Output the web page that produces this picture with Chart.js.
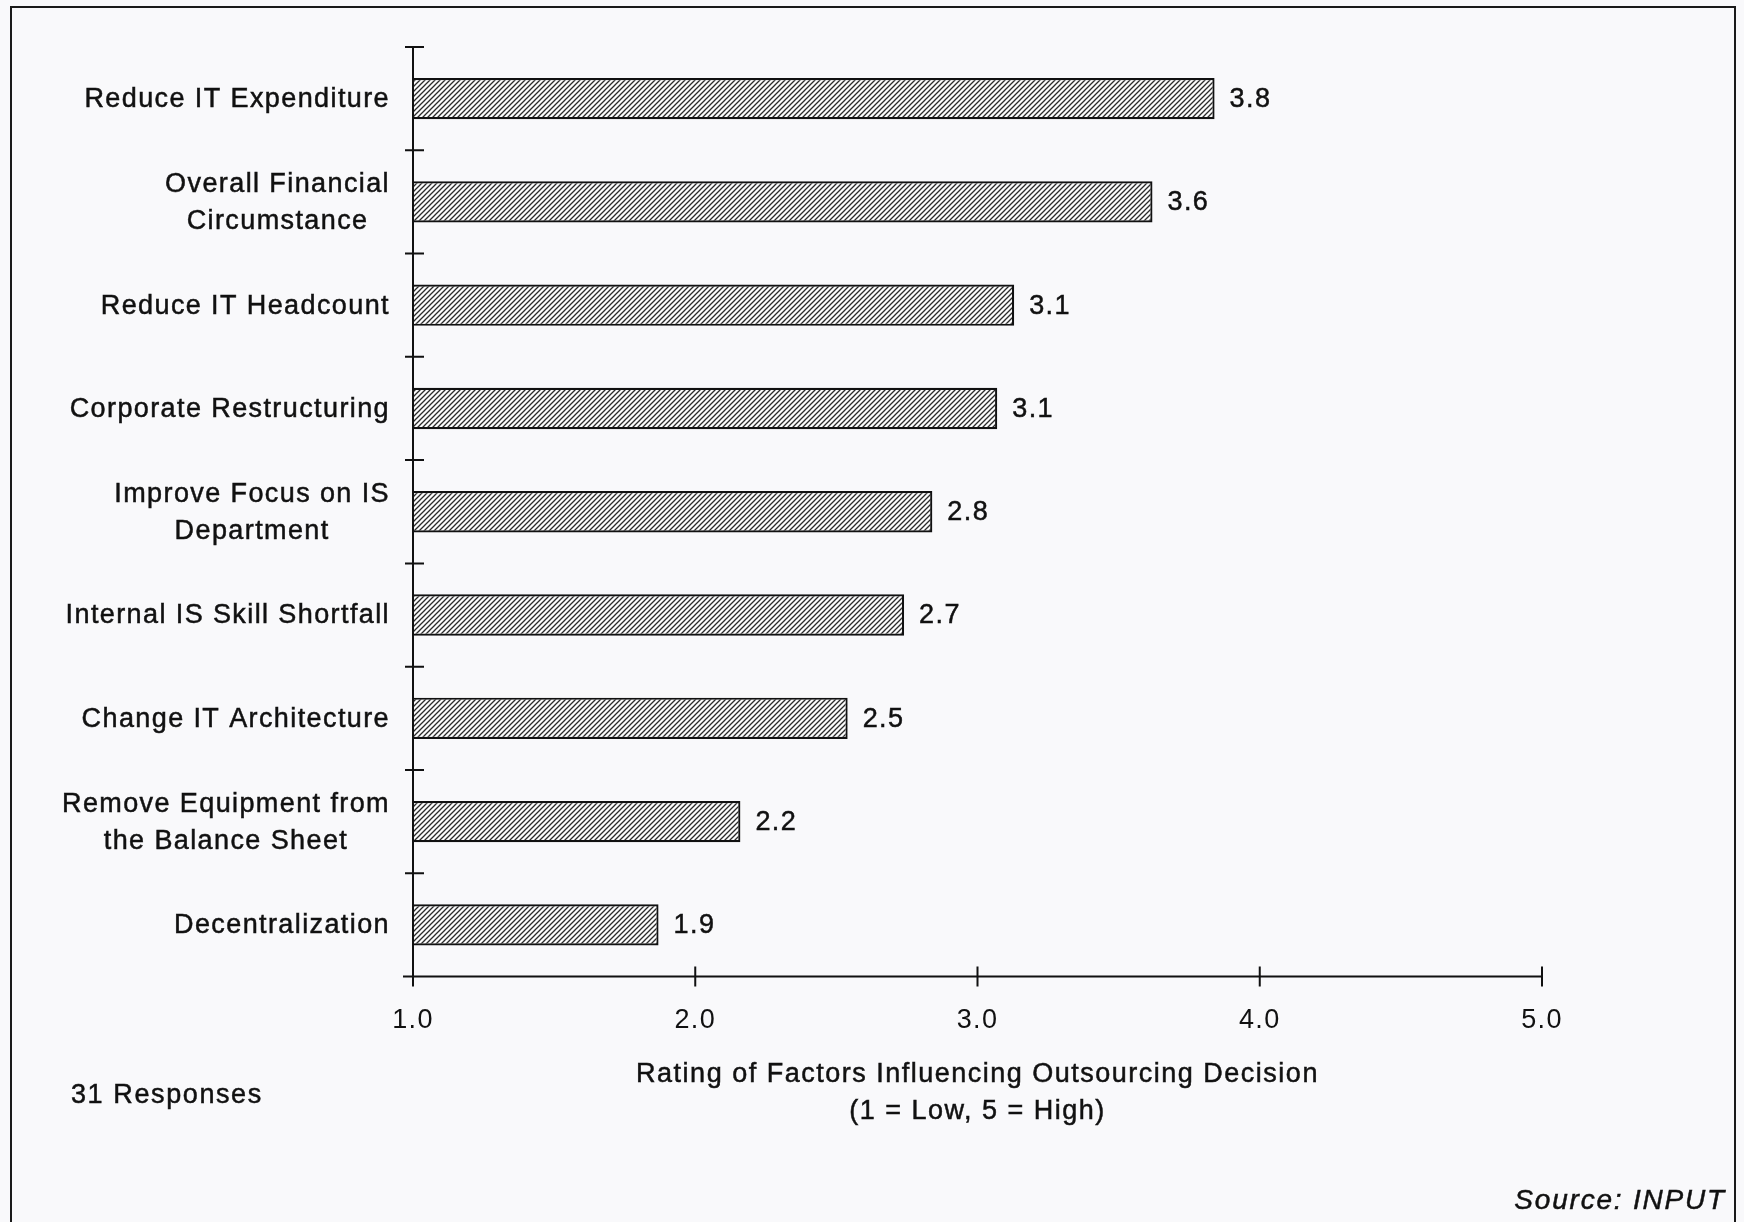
<!DOCTYPE html>
<html lang="en">

<head>
    <meta charset="UTF-8" />
    <title>Rating of Factors Influencing Outsourcing Decision</title>
    <script src="https://cdn.jsdelivr.net/npm/chart.js@4.4.0/dist/chart.umd.min.js"></script>
    <style>
        html, body { margin: 0; padding: 0; background: #f9f9fb; overflow: hidden; }
        #page { position: relative; width: 1744px; height: 1222px; }
        #frame { position: absolute; left: 10px; top: 6px; width: 1722px; height: 1300px; border: 2.5px solid #1a1a1a; }
        #wrap { position: absolute; left: 0; top: 0; width: 1744px; height: 1222px; }
    </style>
</head>

<body>
<div id="page">
    <div id="frame"></div>
    <div id="wrap"><canvas id="chart"></canvas></div>
</div>

<script>
    // factor names (one entry per line of the label)
    const factorLabels = [
        ['Reduce IT Expenditure'],
        ['Overall Financial', 'Circumstance'],
        ['Reduce IT Headcount'],
        ['Corporate Restructuring'],
        ['Improve Focus on IS', 'Department'],
        ['Internal IS Skill Shortfall'],
        ['Change IT Architecture'],
        ['Remove Equipment from', 'the Balance Sheet'],
        ['Decentralization']
    ];
    // average rating per factor
    const ratings = [3.84, 3.62, 3.13, 3.07, 2.84, 2.74, 2.54, 2.16, 1.87];
    // rating scale
    const scaleMin = 1;
    const scaleMax = 5;
    const titleLines = ['Rating of Factors Influencing Outsourcing Decision', '(1 = Low, 5 = High)'];
    const responseNote = '31 Responses';
    const sourceNote = 'Source: INPUT';

    const FONT = '"Liberation Sans", Arial, sans-serif';
    const INK = '#111';

    // diagonal hatch fill for the bars
    function makeHatch() {
        const s = 5;
        const c = document.createElement('canvas');
        c.width = s; c.height = s;
        const g = c.getContext('2d');
        g.fillStyle = '#fbfbfb';
        g.fillRect(0, 0, s, s);
        g.strokeStyle = '#2a2a2a';
        g.lineWidth = 1.3;
        g.beginPath();
        g.moveTo(-1, s + 1); g.lineTo(s + 1, -1);
        g.moveTo(-1, 1); g.lineTo(1, -1);
        g.moveTo(s - 1, s + 1); g.lineTo(s + 1, s - 1);
        g.stroke();
        return g.createPattern(c, 'repeat');
    }

    // filled text with a hairline stroke so it reads a little heavier
    function ink(ctx, text, x, y) {
        ctx.fillText(text, x, y);
        ctx.strokeText(text, x, y);
    }

    // axes with crossing tick marks, value labels, category labels and notes
    const decorations = {
        id: 'decorations',
        beforeDraw(chart) {
            chart.ctx.letterSpacing = '1.4px';
        },
        afterDatasetsDraw(chart) {
            const ctx = chart.ctx;
            const xs = chart.scales.x;
            const ys = chart.scales.y;
            const area = chart.chartArea;
            const t = 10;

            ctx.save();
            ctx.strokeStyle = INK;
            ctx.lineWidth = 2;
            ctx.beginPath();
            // axis lines
            ctx.moveTo(area.left, area.top);
            ctx.lineTo(area.left, area.bottom + t);
            ctx.moveTo(area.left - t, area.bottom);
            ctx.lineTo(area.right, area.bottom);
            // x ticks
            for (let v = scaleMin; v <= scaleMax; v++) {
                const px = xs.getPixelForValue(v);
                ctx.moveTo(px, area.bottom - t);
                ctx.lineTo(px, area.bottom + t);
            }
            // y ticks between categories
            for (let i = 0; i <= factorLabels.length; i++) {
                const py = ys.getPixelForValue(i - 0.5);
                ctx.moveTo(area.left - 8, py);
                ctx.lineTo(area.left + 11, py);
            }
            ctx.stroke();

            ctx.fillStyle = INK;
            ctx.lineWidth = 0.5;
            ctx.letterSpacing = '1.4px';
            ctx.font = '27px ' + FONT;
            ctx.textBaseline = 'middle';

            // value labels
            ctx.textAlign = 'left';
            chart.getDatasetMeta(0).data.forEach((bar, i) => {
                ink(ctx, ratings[i].toFixed(1), bar.x + 15, bar.y + 1);
            });

            // category labels: block right aligned, lines centred in the block
            ctx.textAlign = 'center';
            const lh = 37;
            factorLabels.forEach((lines, i) => {
                const w = Math.max(...lines.map(l => ctx.measureText(l).width));
                const cx = area.left - 23 - w / 2;
                const y0 = ys.getPixelForValue(i) - (lines.length - 1) * lh / 2;
                lines.forEach((l, k) => ink(ctx, l, cx, y0 + k * lh + 1));
            });

            // axis title
            ctx.letterSpacing = '1.5px';
            ctx.font = '27px ' + FONT;
            const mid = (xs.left + xs.right) / 2;
            titleLines.forEach((l, k) => ink(ctx, l, mid, area.bottom + 98 + k * 36.6));

            // notes
            ctx.letterSpacing = '1.6px';
            ctx.textAlign = 'left';
            ink(ctx, responseNote, 71, 1096);
            ctx.textAlign = 'right';
            ctx.letterSpacing = '1.8px';
            ctx.font = 'italic 28px ' + FONT;
            ink(ctx, sourceNote, 1726, 1201);
            ctx.restore();
        }
    };

    const ctx = document.getElementById('chart').getContext('2d');
    const myChart = new Chart(ctx, {
        type: 'bar',
        data: {
            labels: factorLabels,
            datasets: [{
                data: ratings,
                base: scaleMin,
                backgroundColor: makeHatch(),
                borderColor: INK,
                borderWidth: 2.2,
                borderSkipped: 'start',
                categoryPercentage: 0.4,
                barPercentage: 1.0
            }]
        },
        options: {
            indexAxis: 'y',
            responsive: true,
            maintainAspectRatio: false,
            devicePixelRatio: 1,
            animation: false,
            layout: { padding: { left: 413, right: 202, top: 47, bottom: 185.5 } },
            plugins: {
                legend: { display: false },
                tooltip: { enabled: false }
            },
            scales: {
                y: {
                    type: 'category',
                    grid: { display: false, drawTicks: false },
                    border: { display: false },
                    ticks: { display: false },
                    afterFit: s => { s.width = 0; }
                },
                x: {
                    type: 'linear',
                    min: scaleMin,
                    max: scaleMax,
                    grid: { display: false, drawTicks: false },
                    border: { display: false },
                    ticks: {
                        stepSize: 1,
                        padding: 28,
                        color: INK,
                        font: { family: FONT, size: 27 },
                        callback: v => Number(v).toFixed(1)
                    },
                    afterFit: s => { s.height = 60; }
                }
            }
        },
        plugins: [decorations]
    });
</script>
</body>

</html>
